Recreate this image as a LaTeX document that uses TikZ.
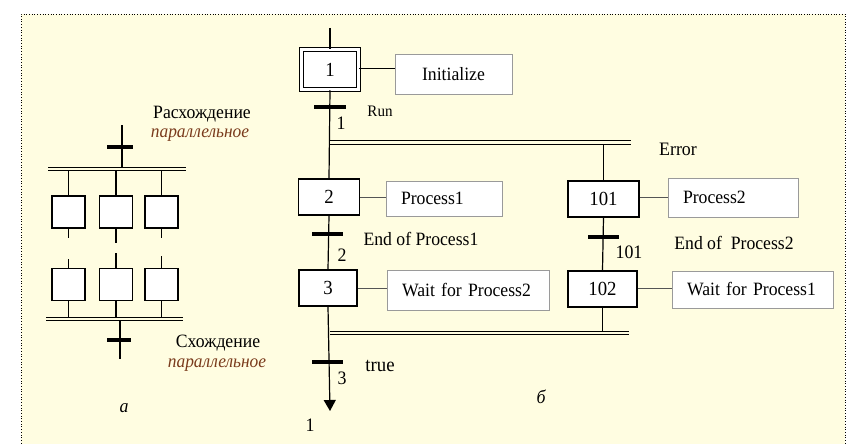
\documentclass[tikz,border=0pt]{standalone}
\usepackage{fontspec}
\setmainfont[FakeStretch=0.94]{Liberation Serif}
\usetikzlibrary{arrows.meta,calc}
\definecolor{bg}{HTML}{FFFDE1}
\definecolor{brownish}{HTML}{7A3B1C}
\definecolor{boxgray}{HTML}{9A9A9A}
\definecolor{linkgray}{HTML}{555555}
\begin{document}
\begin{tikzpicture}[x=1pt,y=-1pt,
  every node/.style={font=\fontsize{18.8}{20}\selectfont, inner sep=0pt},
  stepbox/.style={draw, line width=1.7pt, fill=white, font=\fontsize{20}{20}\selectfont},
  actbox/.style={draw=boxgray, line width=0.8pt, fill=white, align=left, inner xsep=15pt},
  smallbox/.style={draw, line width=1.7pt, fill=white, minimum width=33pt, minimum height=32pt},
  wire/.style={line width=1.2pt},
  link/.style={line width=0.9pt, draw=linkgray},
  tbar/.style={line width=3.2pt},
  dbar/.style={line width=1.2pt, double=bg, double distance=2.4pt},
  lab/.style={font=\fontsize{16}{18}\selectfont},
  num/.style={font=\fontsize{19}{20}\selectfont},
  ital/.style={font=\fontsize{19}{20}\selectfont\itshape},
  par/.style={font=\fontsize{18.5}{20}\selectfont\itshape, text=brownish}
]
\useasboundingbox (0,0) rectangle (854,444);
\fill[white] (0,0) rectangle (854,444);
\fill[bg] (21,14) rectangle (845,444);
\draw[dotted, line width=0.7pt] (21,446) -- (21,14) -- (845,14) -- (845,446);

% ---------- left diagram (a) ----------
\coordinate (topin) at (122,125);
\coordinate (dbaL) at (48,169);
\coordinate (dbaR) at (186,169);
\coordinate (dbbL) at (46,319);
\coordinate (dbbR) at (183,319);
\coordinate (botout) at (120,359);
\node[smallbox] (b1) at (68.5,212) {};
\node[smallbox] (b2) at (116,212) {};
\node[smallbox] (b3) at (161.5,212) {};
\node[smallbox] (c1) at (68.5,284.5) {};
\node[smallbox] (c2) at (116,284.5) {};
\node[smallbox] (c3) at (161.5,284.5) {};
\draw[wire] (topin) -- (topin |- dbaL);
\draw[tbar] ($(topin)+(-15,22)$) -- ($(topin)+(11,22)$);
\foreach \b in {b1,b2,b3} \draw[wire] (\b.north) -- (\b.north |- dbaL);
\draw[wire] (b1.south) -- ++(0,9);
\draw[wire] (b2.south) -- ++(0,14);
\draw[wire] (b3.south) -- ++(0,9);
\draw[wire] (c1.north) -- ++(0,-9);
\draw[wire] (c2.north) -- ++(0,-15);
\draw[wire] (c3.north) -- ++(0,-12);
\foreach \c in {c1,c2,c3} \draw[wire] (\c.south) -- (\c.south |- dbbL);
\draw[wire] (botout |- dbbL) -- (botout);
\draw[tbar] ($(botout)+(-13,-19)$) -- ($(botout)+(11,-19)$);
\draw[dbar] (dbaL) -- (dbaR);
\draw[dbar] (dbbL) -- (dbbR);
\node (rasx) at (202,114) {Расхождение};
\node[par] (rasxp) at (200,135) {параллельное};
\node (sxod) at (218,343) {Схождение};
\node[par] (sxodp) at (217,365) {параллельное};
\node[ital] (la) at (124,408) {а};

% ---------- right diagram (b) ----------
\coordinate (top) at (330,28);
\coordinate (dbcL) at (330,142.5);
\coordinate (dbcR) at (631,142.5);
\coordinate (dbdL) at (330,333);
\coordinate (dbdR) at (629,333);
\coordinate (arrend) at (330,411);
\coordinate (t1) at (330,107);
\coordinate (t2) at (328,234);
\coordinate (t101) at (603.5,237);
\coordinate (t3) at (328,362);

\node[stepbox, double=white, double distance=2.6pt, line width=1.5pt,
      minimum width=57pt, minimum height=40pt] (s1) at (330,69.5) {1};
\node[stepbox, minimum width=61pt, minimum height=36pt] (s2) at (329,197) {2};
\node[stepbox, minimum width=58pt, minimum height=36pt] (s3) at (328,288) {3};
\node[stepbox, minimum width=71pt, minimum height=36pt] (s101) at (603.5,199) {101};
\node[stepbox, minimum width=69pt, minimum height=36pt] (s102) at (602.5,289) {102};

\node[actbox, align=center, text width=87pt, minimum height=40pt] (a1) at (453.5,74) {Initialize};
\node[actbox, text width=86pt, minimum height=35pt] (a2) at (444,198.5) {Process1};
\node[actbox, text width=132pt, minimum height=40pt] (a3) at (468,290) {Wait for Process2};
\node[actbox, text width=100pt, minimum height=39pt] (a101) at (733,197.5) {Process2};
\node[actbox, text width=131pt, minimum height=37pt] (a102) at (752.5,289.5) {Wait for Process1};

% links step -> action
\draw[line width=0.9pt] (s1.east |- 0,68) -- (a1.west |- 0,68);
\draw[link] (s2.east) -- (a2.west |- s2.east);
\draw[link] (s3.east) -- (a3.west |- s3.east);
\draw[link] (s101.east |- 0,197) -- (a101.west |- 0,197);
\draw[link] (s102.east |- 0,288) -- (a102.west |- 0,288);

% main flow
\draw[wire] (top) -- (s1.north);
\draw[wire] (s1.south) -- (s2.north);
\draw[wire] (s2.south) -- (s3.north);
\draw[wire, -{Triangle[width=12pt,length=11pt]}] (s3.south) -- (arrend);
\draw[wire] (s101.north |- dbcR) -- (s101.north);
\draw[wire] (s101.south) -- (s102.north);
\draw[wire] (s102.south) -- (s102.south |- dbdR);
\draw[dbar] (dbcL) -- (dbcR);
\draw[dbar] (dbdL) -- (dbdR);

% transitions
\draw[tbar] ($(t1)+(-16,0)$) -- ($(t1)+(16,0)$);
\draw[tbar] ($(t2)+(-16,0)$) -- ($(t2)+(15,0)$);
\draw[tbar] ($(t101)+(-15.5,0)$) -- ($(t101)+(15.5,0)$);
\draw[tbar] ($(t3)+(-16,0)$) -- ($(t3)+(15,0)$);

% labels
\node[lab] (lrun) at (380,111) {Run};
\node[num] (n1) at (341,123) {1};
\node[num] (lerr) at (678,149) {Error};
\node (lend1) at (421,239) {End of Process1};
\node[num] (n2) at (342,255) {2};
\node (lend2) at (734,243) {End of\ \ Process2};
\node[num] (n101) at (629,252) {101};
\node[font=\fontsize{20}{20}\selectfont] (ltrue) at (380,366) {true};
\node[num] (n3) at (342,378) {3};
\node[num] (nto) at (310,425) {1};
\node[ital] (lb) at (541,397) {б};
\end{tikzpicture}
\end{document}
